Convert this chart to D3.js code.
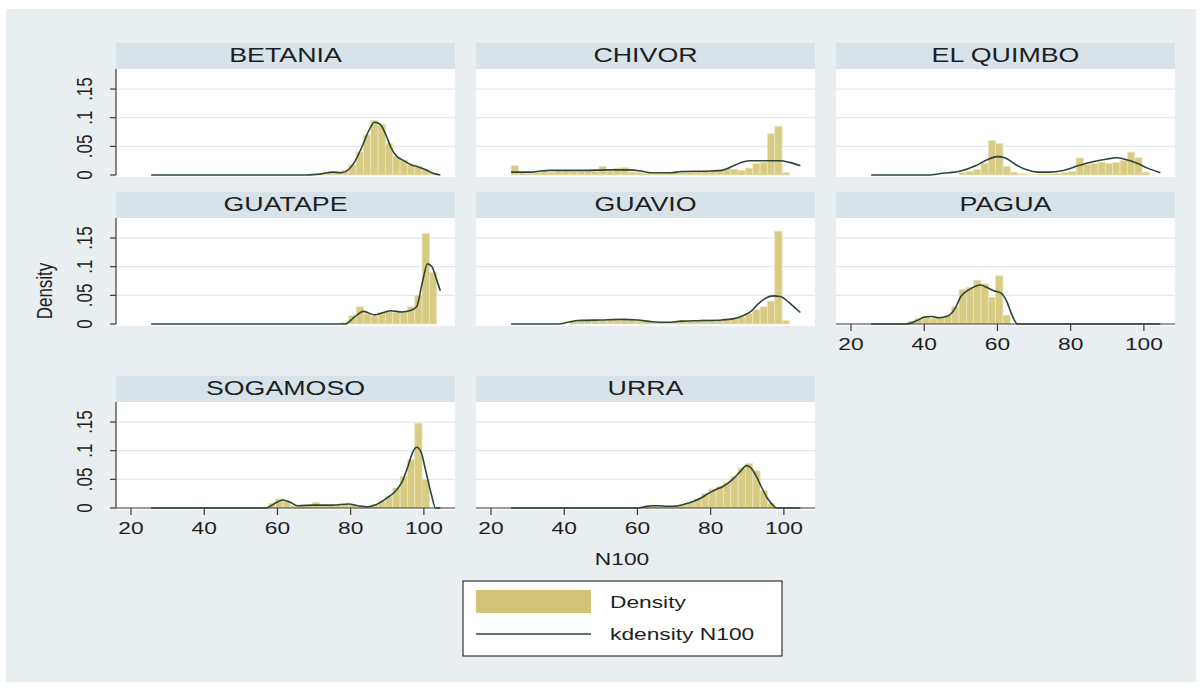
<!DOCTYPE html>
<html>
<head>
<meta charset="utf-8">
<script src="https://cdnjs.cloudflare.com/ajax/libs/d3/7.8.5/d3.min.js"></script>
<style>
  body { margin: 0; background: #ffffff; }
  svg { display: block; }
  text { font-family: "Liberation Sans", Arial, Helvetica, sans-serif; fill: #1e1e1e; }
</style>
</head>
<body>
<svg id="chart" width="1203" height="692"></svg>
<script>
// ---- data -------------------------------------------------------------
const plants = ["BETANIA", "CHIVOR", "EL QUIMBO", "GUATAPE", "GUAVIO", "PAGUA", "SOGAMOSO", "URRA"];

// histogram: bins of width 2, first bin centre per plant, then densities
const binWidth = 2;
const histStart = [72.5, 26.5, 50.5, 78.5, 42.5, 36.5, 58.5, 62.5];
const betaniaHist  = [0.002, 0.004, 0.004, 0.008, 0.018, 0.040, 0.070, 0.095, 0.088, 0.055, 0.032, 0.026, 0.018, 0.014, 0.010, 0.003];
const chivorHist   = [0.016, 0.004, 0.003, 0.004, 0.006, 0.005, 0.006, 0.007, 0.006, 0.006, 0.007, 0.006, 0.015, 0.007, 0.012, 0.013, 0.005, 0.004, 0.003, 0.002, 0.003, 0.004, 0.004, 0.005, 0.005, 0.006, 0.007, 0.006, 0.008, 0.012, 0.010, 0.008, 0.012, 0.020, 0.022, 0.072, 0.085, 0.004];
const quimboHist   = [0.004, 0.006, 0.010, 0.020, 0.060, 0.055, 0.015, 0.005, 0.002, 0.001, 0.001, 0.002, 0.002, 0.003, 0.004, 0.006, 0.030, 0.018, 0.020, 0.022, 0.020, 0.022, 0.025, 0.040, 0.030, 0.005];
const guatapeHist  = [0.003, 0.015, 0.030, 0.018, 0.014, 0.020, 0.022, 0.020, 0.022, 0.030, 0.050, 0.158, 0.090];
const guavioHist   = [0.006, 0.008, 0.006, 0.007, 0.006, 0.007, 0.006, 0.008, 0.007, 0.005, 0.004, 0.003, 0.003, 0.003, 0.004, 0.005, 0.005, 0.006, 0.008, 0.007, 0.006, 0.008, 0.010, 0.012, 0.018, 0.025, 0.030, 0.040, 0.162, 0.006];
const paguaHist    = [0.005, 0.010, 0.012, 0.010, 0.012, 0.015, 0.030, 0.060, 0.064, 0.076, 0.070, 0.046, 0.084, 0.015];
const sogamosoHist = [0.008, 0.016, 0.012, 0.004, 0.004, 0.005, 0.010, 0.005, 0.004, 0.005, 0.007, 0.006, 0.003, 0.003, 0.006, 0.012, 0.020, 0.035, 0.055, 0.085, 0.148, 0.050];
const urraHist     = [0.004, 0.005, 0.003, 0.002, 0.004, 0.006, 0.010, 0.016, 0.025, 0.033, 0.038, 0.045, 0.055, 0.070, 0.078, 0.065, 0.030, 0.008];
const histHeights = [betaniaHist, chivorHist, quimboHist, guatapeHist, guavioHist, paguaHist, sogamosoHist, urraHist];

// kernel density estimates of N100, [N100, density]
const betaniaKd = [[25.5,0],[68,0],[72,0.002],[75,0.005],[77.5,0.004],[79.5,0.010],[81,0.022],[83,0.048],[85,0.078],[86.5,0.092],[88,0.089],[89.5,0.072],[91,0.048],[92.5,0.033],[94.5,0.025],[96.5,0.018],[98.5,0.014],[100.5,0.009],[102.5,0.003],[104.5,0]];
const chivorKd = [[25.5,0.005],[31,0.005],[33.5,0.007],[36,0.008],[45,0.008],[52,0.009],[57,0.009],[61,0.007],[63.5,0.004],[69,0.004],[72,0.006],[80,0.007],[83,0.008],[85.5,0.014],[88,0.021],[90.5,0.025],[95,0.025],[99,0.025],[101.5,0.022],[104.5,0.016]];
const quimboKd = [[25.5,0],[41,0],[45,0.003],[50,0.007],[54,0.016],[57,0.026],[60,0.032],[62,0.030],[65,0.018],[68,0.009],[71,0.005],[74,0.005],[78,0.008],[82,0.016],[86,0.023],[90,0.028],[92.5,0.030],[95,0.027],[98,0.021],[101,0.012],[104.5,0.004]];
const guatapeKd = [[25.5,0],[78.5,0],[81,0.012],[83.5,0.022],[86.5,0.016],[89,0.020],[91,0.023],[94,0.021],[96.5,0.024],[98,0.030],[99.5,0.070],[101,0.105],[102.2,0.100],[103.5,0.077],[104.5,0.058]];
const guavioKd = [[25.5,0],[38.5,0],[41,0.003],[44,0.006],[50,0.007],[56,0.008],[60,0.007],[64,0.004],[68,0.003],[72,0.005],[78,0.006],[83,0.007],[86,0.009],[89,0.015],[91,0.022],[93,0.035],[95,0.045],[97,0.049],[99,0.048],[101.5,0.037],[104.5,0.020]];
const paguaKd = [[25.5,0],[35,0],[38,0.006],[40,0.012],[42,0.013],[44,0.011],[46.5,0.014],[48.5,0.028],[50,0.048],[52,0.059],[54,0.066],[55.5,0.068],[57,0.064],[59,0.058],[61,0.054],[62.5,0.040],[64,0.015],[65.5,0],[104.5,0]];
const sogamosoKd = [[25.5,0],[57,0],[59,0.007],[61.5,0.014],[63.5,0.010],[65.5,0.004],[70,0.005],[75,0.005],[79.5,0.007],[82,0.004],[84.5,0.002],[87,0.006],[90,0.018],[92,0.028],[94,0.045],[95.5,0.070],[97,0.098],[98,0.106],[99.2,0.098],[100.5,0.065],[102,0.025],[103.2,0],[104.5,0]];
const urraKd = [[25.5,0],[60,0],[62,0.002],[64,0.004],[66,0.004],[68,0.003],[70,0.003],[72.5,0.006],[75,0.011],[77.5,0.018],[79,0.024],[81,0.031],[83.5,0.038],[86,0.050],[88,0.063],[89.8,0.074],[91,0.070],[92.5,0.055],[94,0.035],[95.5,0.017],[97,0.005],[98,0],[104.5,0]];
const kdCurves = [betaniaKd, chivorKd, quimboKd, guatapeKd, guavioKd, paguaKd, sogamosoKd, urraKd];

const yTicks = [0, 0.05, 0.1, 0.15];
const yTickLabels = ["0", ".05", ".1", ".15"];
const xTicks = [20, 40, 60, 80, 100];
const xTickLabels = ["20", "40", "60", "80", "100"];

// ---- layout ----------------------------------------------------------
const W = 1203, H = 692;
const colLeft = [116, 476, 836];
const rowZero = [175, 324, 508];
const plotW = 339, plotH = 106, stripH = 26;
const sx = 1.34; // horizontal text stretch

const bgCol = "#e9eef1", stripCol = "#d8e3e9", gridCol = "#e4e8ea";
const barFill = "#d8cb84", barEdge = "#ece4bd", lineCol = "#2b4639", axisCol = "#3a3a3a";

const svg = d3.select("#chart");
svg.append("rect").attr("x", 6).attr("y", 9).attr("width", 1190).attr("height", 673).attr("fill", bgCol);

const x = d3.scaleLinear().domain([15.9, 108.5]).range([0, plotW]);
const y = d3.scaleLinear().domain([0, 0.185]).range([0, -plotH]);

function stretchedText(g, tx, ty, str, size, anchor, rotate) {
  return g.append("text")
    .attr("transform", `translate(${tx},${ty}) scale(${sx},1)` + (rotate ? " rotate(-90)" : ""))
    .attr("text-anchor", anchor)
    .attr("font-size", size)
    .text(str);
}

const line = d3.line().x(d => x(d[0])).y(d => y(d[1])).curve(d3.curveMonotoneX);

plants.forEach((name, i) => {
  const c = i % 3, r = Math.floor(i / 3);
  const g = svg.append("g").attr("transform", `translate(${colLeft[c]},${rowZero[r]})`);

  // strip title
  g.append("rect").attr("x", 0).attr("y", -plotH - stripH).attr("width", plotW).attr("height", stripH).attr("fill", stripCol);
  stretchedText(g, plotW / 2, -plotH - 7, name, 20, "middle", false);

  // plot region
  g.append("rect").attr("x", 0).attr("y", -plotH).attr("width", plotW).attr("height", plotH + 2).attr("fill", "#ffffff");

  // grid lines
  g.selectAll("line.grid").data(yTicks.slice(1)).enter().append("line")
    .attr("x1", 0).attr("x2", plotW)
    .attr("y1", d => y(d)).attr("y2", d => y(d))
    .attr("stroke", gridCol).attr("stroke-width", 1.2);

  // histogram bars
  const bins = histHeights[i].map((h, k) => ({ c: histStart[i] + k * binWidth, h }));
  g.selectAll("rect.bar").data(bins.filter(b => b.h > 0)).enter().append("rect")
    .attr("x", d => x(d.c - binWidth / 2))
    .attr("width", d => x(d.c + binWidth / 2) - x(d.c - binWidth / 2))
    .attr("y", d => y(d.h))
    .attr("height", d => y(0) - y(d.h))
    .attr("fill", barFill).attr("stroke", barEdge).attr("stroke-width", 0.7);

  // kernel density
  g.append("path").datum(kdCurves[i]).attr("d", line)
    .attr("fill", "none").attr("stroke", lineCol).attr("stroke-width", 1.6);

  // y axis on the first column
  if (c === 0) {
    g.append("line").attr("x1", 0).attr("x2", 0).attr("y1", -plotH).attr("y2", 0).attr("stroke", axisCol).attr("stroke-width", 1.2);
    yTicks.forEach((t, k) => {
      g.append("line").attr("x1", -6).attr("x2", 0).attr("y1", y(t)).attr("y2", y(t)).attr("stroke", axisCol).attr("stroke-width", 1.2);
      stretchedText(g, -24, y(t), yTickLabels[k], 17, "middle", true);
    });
  }

  // x axis on the bottom panel of each column
  if (i >= 5) {
    g.append("line").attr("x1", 0).attr("x2", plotW).attr("y1", 0).attr("y2", 0).attr("stroke", axisCol).attr("stroke-width", 1.2);
    xTicks.forEach((t, k) => {
      g.append("line").attr("x1", x(t)).attr("x2", x(t)).attr("y1", 0).attr("y2", 7).attr("stroke", axisCol).attr("stroke-width", 1.2);
      stretchedText(g, x(t), 26, xTickLabels[k], 17, "middle", false);
    });
  }
});

// axis titles
stretchedText(svg, 52, 291, "Density", 17, "middle", true);
stretchedText(svg, 622, 565, "N100", 17, "middle", false);

// legend
const lg = svg.append("g");
lg.append("rect").attr("x", 463).attr("y", 581).attr("width", 319).attr("height", 75)
  .attr("fill", "#ffffff").attr("stroke", "#333333").attr("stroke-width", 1.2);
lg.append("rect").attr("x", 476).attr("y", 590).attr("width", 115).attr("height", 23).attr("fill", "#d1c479");
lg.append("line").attr("x1", 476).attr("x2", 591).attr("y1", 634).attr("y2", 634).attr("stroke", lineCol).attr("stroke-width", 1.4);
stretchedText(lg, 610, 608, "Density", 17, "start", false);
stretchedText(lg, 610, 640, "kdensity N100", 17, "start", false);
</script>
</body>
</html>
